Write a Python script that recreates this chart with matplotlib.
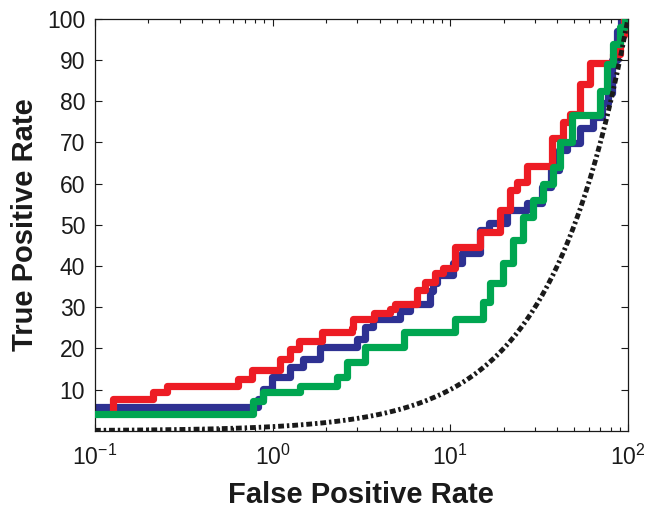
import numpy as np
import matplotlib.pyplot as plt
from matplotlib.ticker import LogLocator, NullFormatter

plt.rcParams['font.family'] = ['Liberation Sans', 'DejaVu Sans']

# ROC curves, false positive rate (%) vs true positive rate (%)
red_fpr = [0.126, 0.126, 0.212, 0.254, 0.638, 0.764, 1.10, 1.25, 1.40, 1.90, 2.80, 2.85, 3.70,
           4.57, 4.88, 6.48, 7.19, 8.19, 9.08, 10.6, 14.7, 19.0, 21.6, 23.7, 27.0, 37.3, 43.0,
           47.1, 53.6, 61.0, 82.5, 90.0, 95.0, 100.0]
red_tpr = [4.8, 7.7, 9.4, 10.9, 12.6, 14.7, 17.4, 19.8, 21.7, 23.9, 25.0, 27.1, 28.7,
           29.5, 30.7, 34.3, 36.2, 38.4, 39.6, 44.7, 48.3, 53.6, 58.5, 60.4, 64.3, 71.0, 74.9,
           77.0, 84.3, 89.4, 91.5, 96.0, 100.0, 100.0]

blue_fpr = [0.1, 0.826, 0.88, 0.99, 1.25, 1.48, 1.84, 2.98, 3.30, 3.66, 5.2, 5.9, 7.7, 8.0,
            8.4, 10.3, 11.7, 14.7, 16.5, 20.8, 27.0, 33.0, 37.0, 41.0, 45.6, 53.6, 63.3, 71.9,
            77.0, 81.0, 86.6, 92.0, 100.0]
blue_tpr = [5.8, 7.7, 10.1, 13.0, 15.5, 17.4, 20.3, 22.2, 25.1, 27.1, 29.0, 30.7, 34.0, 36.0,
            37.9, 40.8, 43.2, 48.8, 50.5, 53.6, 55.3, 59.2, 63.3, 68.1, 69.8, 73.4, 76.1, 79.5,
            82.0, 90.0, 97.0, 100.0, 100.0]

green_fpr = [0.1, 0.78, 0.88, 1.43, 2.30, 2.62, 3.30, 5.5, 10.6, 15.3, 16.7, 19.8, 22.5, 25.6,
             29.2, 33.2, 37.8, 41.4, 48.3, 69.5, 76.0, 82.5, 90.0, 96.6, 100.0]
green_tpr = [4.1, 7.2, 9.4, 10.9, 13.0, 16.7, 20.3, 23.9, 27.1, 31.2, 36.0, 40.8, 46.4, 51.9,
             56.0, 60.0, 64.0, 70.0, 76.6, 82.6, 89.0, 94.0, 98.0, 100.0, 100.0]

# random classifier reference
chance = np.logspace(-1, 2, 200)

fig = plt.figure(figsize=(6.46, 5.11), dpi=100)
ax = fig.add_axes([0.147, 0.157, 0.825, 0.806])

ax.plot(blue_fpr, blue_tpr, drawstyle='steps-post', color='#2e3192', lw=5.2, zorder=2)
ax.plot(red_fpr, red_tpr, drawstyle='steps-post', color='#ed1c24', lw=5.2, zorder=3)
ax.plot(green_fpr, green_tpr, drawstyle='steps-post', color='#00a651', lw=5.2, zorder=4)
ax.plot(chance, chance, color='#1a1a1a', lw=3.5, linestyle=(0, (1.2, 0.6, 0.5, 0.6)), zorder=5)

ax.set_xscale('log')
ax.set_xlim(0.1, 100)
ax.set_ylim(0, 100)
ax.set_yticks(range(10, 101, 10))
ax.xaxis.set_minor_locator(LogLocator(base=10, subs=np.arange(2, 10)))
ax.xaxis.set_minor_formatter(NullFormatter())

ax.tick_params(which='both', direction='in', top=True, right=True, labelsize=16.5,
               width=0.8, colors='#1a1a1a')
ax.tick_params(which='major', length=5, pad=7)
ax.tick_params(axis='x', which='major', pad=10)
ax.tick_params(which='minor', length=3)
for s in ax.spines.values():
    s.set_linewidth(0.9)
    s.set_color('#1a1a1a')

ax.set_xlabel('False Positive Rate', fontsize=21, fontweight='bold', labelpad=8, color='#1a1a1a')
ax.set_ylabel('True Positive Rate', fontsize=21, fontweight='bold', labelpad=6, color='#1a1a1a')

fig.savefig('out.png', dpi=100)
